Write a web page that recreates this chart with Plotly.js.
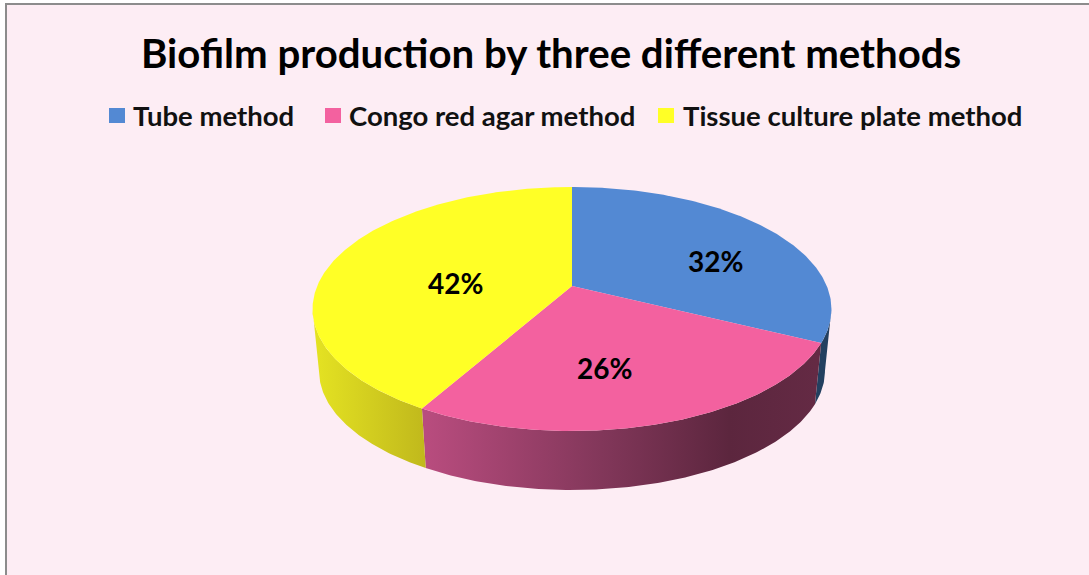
<!DOCTYPE html>
<html>
<head>
<meta charset="utf-8">
<script src="https://cdn.plot.ly/plotly-3.0.1.min.js"></script>
<style>html,body{margin:0;padding:0;background:#fff;overflow:hidden}#chart{width:1089px;height:575px}</style>
</head>
<body>
<div id="chart"></div>
<script>
var categories = ["Tube method", "Congo red agar method", "Tissue culture plate method"];
var values = [32, 26, 42];
var topColors = ["#5389d3", "#f3619f", "#ffff26"];
var wallScales = [
  [[0, "#234060"], [1, "#234060"]],
  [[0, "#b84c7e"], [0.45, "#82375a"], [0.78, "#5c263e"], [1, "#642a44"]],
  [[0, "#e4e222"], [1, "#c0b81c"]]
];
var wallStops = [[790, 830], [427, 815], [316, 427]];
var titleText = "Biofilm production by three different methods";

// projection of the round pie onto the page (perspective ellipse)
var cx = 572, cy = 286, rX = 254.8, rY = 117.7, k = 0.1885;
var warpA = 0.01595, warpB = 0.00718;
var depthY = 62.6, depthScale = 0.975;
function project(theta0, r, bottom) {
  var theta = theta0 + warpA * Math.sin(theta0 / 2) + warpB * Math.sin(theta0);
  var u = Math.sin(theta) * r, v = -Math.cos(theta) * r, d = 1 - k * v;
  var s = bottom ? depthScale : 1;
  return [cx + s * rX * u / d, cy + (bottom ? depthY : 0) + s * rY * v / d];
}
function arc(a0, a1, bottom) {
  var pts = [], n = Math.max(2, Math.ceil(Math.abs(a1 - a0) / 0.01));
  for (var i = 0; i <= n; i++) pts.push(project(a0 + (a1 - a0) * i / n, 1, bottom));
  return pts;
}
var total = values.reduce(function (a, b) { return a + b; }, 0);
var visLo = Math.acos(-k) - 0.0195, visHi = 2 * Math.PI - Math.acos(-k) - 0.005;
var walls = [], tops = [], cum = 0;
values.forEach(function (val, i) {
  var a0 = cum / total * 2 * Math.PI, a1 = (cum + val) / total * 2 * Math.PI;
  cum += val;
  var w0 = Math.max(a0, visLo), w1 = Math.min(a1, visHi);
  if (w1 > w0) {
    var poly = arc(w0, w1, false).concat(arc(w1, w0, true));
    poly.push(poly[0]);
    walls.push({
      type: "scatter", mode: "lines", name: categories[i] + " side",
      x: poly.map(function (p) { return p[0]; }), y: poly.map(function (p) { return p[1]; }),
      fill: "toself", line: { width: 0 }, showlegend: false, hoverinfo: "skip",
      fillgradient: { type: "horizontal", colorscale: wallScales[i], start: wallStops[i][0], stop: wallStops[i][1] }
    });
  }
  var face = [[cx, cy]].concat(arc(a0, a1, false));
  face.push([cx, cy]);
  tops.push({
    type: "scatter", mode: "lines", name: categories[i],
    x: face.map(function (p) { return p[0]; }), y: face.map(function (p) { return p[1]; }),
    fill: "toself", fillcolor: topColors[i], line: { width: 0, color: topColors[i] },
    showlegend: false, hoverinfo: "skip"
  });
});

var font = "Lato, 'Noto Sans', sans-serif";
var labelAt = [[715.5, 260.5], [604, 367.5], [455.5, 282.5]];
var legendBox = [109, 325, 658];
var legendText = [133, 349, 683];
var annotations = values.map(function (v, i) {
  return { x: labelAt[i][0], y: labelAt[i][1], xref: "x", yref: "y", text: "<b>" + v + "%</b>", showarrow: false,
    font: { family: font, size: 28, color: "#000" }, xanchor: "center", yanchor: "middle" };
});
categories.forEach(function (c, i) {
  annotations.push({ x: legendText[i], y: 115, xref: "x", yref: "y", text: "<b>" + c + "</b>", showarrow: false,
    font: { family: font, size: 27.5, color: "#111" }, xanchor: "left", yanchor: "middle", xshift: -2 });
});
annotations.push({ x: 551, y: 52, xref: "x", yref: "y", text: "<b>" + titleText + "</b>", showarrow: false,
  font: { family: font, size: 40.2, color: "#000" }, xanchor: "center", yanchor: "middle" });

var shapes = [{ type: "rect", xref: "x", yref: "y", x0: 6, y0: 4, x1: 1100, y1: 590,
  fillcolor: "#fdedf4", line: { color: "#8c8c8c", width: 2 }, layer: "below" }];
topColors.forEach(function (c, i) {
  shapes.push({ type: "rect", xref: "x", yref: "y", x0: legendBox[i], x1: legendBox[i] + 16, y0: 108, y1: 123,
    fillcolor: c, line: { width: 0 }, layer: "below" });
});

Plotly.newPlot("chart", walls.concat(tops), {
  width: 1089, height: 575,
  margin: { l: 0, r: 0, t: 0, b: 0 },
  paper_bgcolor: "#ffffff", plot_bgcolor: "#ffffff",
  xaxis: { range: [0, 1089], visible: false, fixedrange: true },
  yaxis: { range: [575, 0], visible: false, fixedrange: true },
  showlegend: false, hovermode: false,
  shapes: shapes, annotations: annotations
}, { displayModeBar: false, staticPlot: true });
</script>
</body>
</html>
